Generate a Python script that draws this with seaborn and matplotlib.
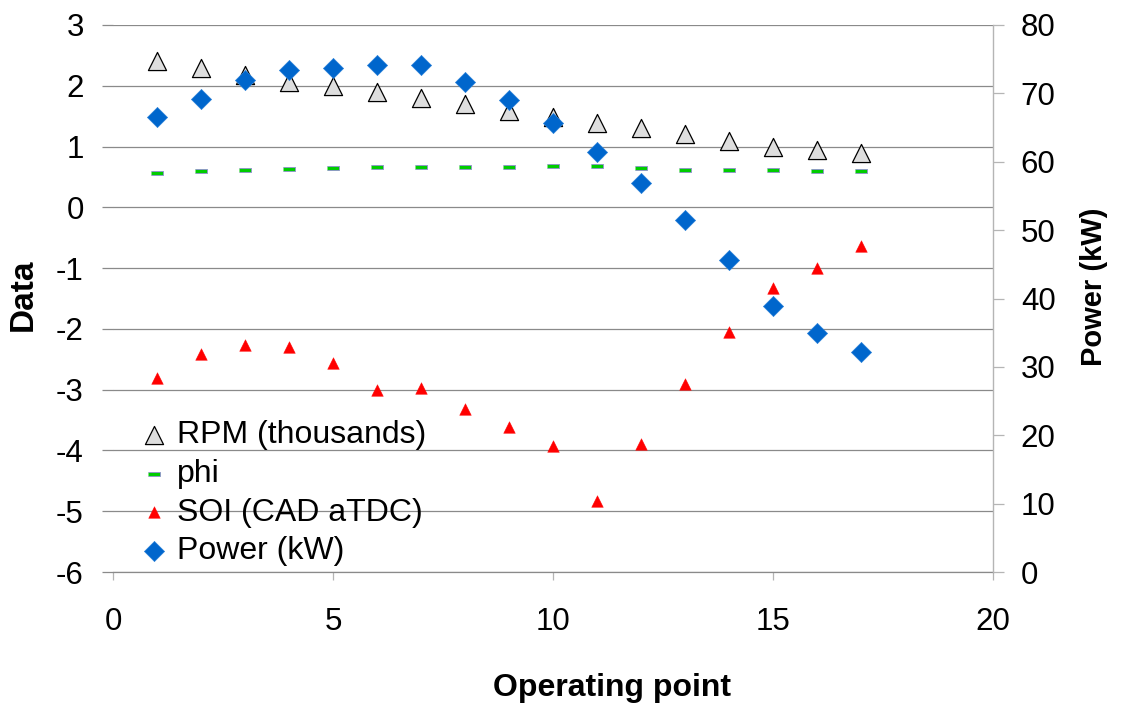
import numpy as np
import pandas as pd
import matplotlib
matplotlib.use("Agg")
import matplotlib.pyplot as plt
import seaborn as sns

# ---- data ----
op_points = [1, 2, 3, 4, 5, 6, 7, 8, 9, 10, 11, 12, 13, 14, 15, 16, 17]
rpm_thousands = [2.40, 2.30, 2.18, 2.06, 1.99, 1.90, 1.80, 1.70, 1.59, 1.49,
                 1.39, 1.30, 1.20, 1.09, 1.00, 0.95, 0.90]
phi = [0.56, 0.59, 0.62, 0.63, 0.645, 0.67, 0.67, 0.67, 0.67, 0.68,
       0.68, 0.64, 0.62, 0.62, 0.62, 0.60, 0.60]
soi = [-2.80, -2.42, -2.27, -2.30, -2.56, -3.01, -2.97, -3.32, -3.61, -3.93,
       -4.84, -3.89, -2.90, -2.05, -1.32, -1.00, -0.64]
power_kw = [66.5, 69.2, 71.9, 73.4, 73.7, 74.2, 74.1, 71.7, 69.0, 65.7,
            61.4, 56.9, 51.5, 45.6, 38.9, 35.0, 32.2]

left_ticks = [3, 2, 1, 0, -1, -2, -3, -4, -5, -6]
right_ticks = [0, 10, 20, 30, 40, 50, 60, 70, 80]
x_ticks = [0, 5, 10, 15, 20]

labels = ["RPM (thousands)", "phi", "SOI (CAD aTDC)", "Power (kW)"]

# ---- style ----
sns.set_style("white")
plt.rcParams['font.family'] = ['Liberation Sans', 'DejaVu Sans']
plt.rcParams['axes.unicode_minus'] = False
plt.rcParams['text.color'] = 'black'
plt.rcParams['axes.labelcolor'] = 'black'

W, H = 1127, 705
fig = plt.figure(figsize=(W / 100, H / 100), dpi=100)
ax = fig.add_axes([113 / W, 1 - 572 / H, 880 / W, 547 / H])
ax2 = ax.twinx()

grid_c = '#8a8a8a'
dash_marker = [(-1.5, -0.5), (1.5, -0.5), (1.5, 0.5), (-1.5, 0.5)]

sns.scatterplot(x=op_points, y=rpm_thousands, ax=ax, marker='^', s=170,
                color='#dedede', edgecolor='black', linewidth=0.9,
                label=labels[0], zorder=3, legend=False)
sns.scatterplot(x=op_points, y=phi, ax=ax, marker=dash_marker, s=80,
                color='#00cc00', edgecolor='#8f8fcf', linewidth=0.6,
                label=labels[1], zorder=3, legend=False)
sns.scatterplot(x=op_points, y=soi, ax=ax, marker='^', s=70,
                color='#ff0000', edgecolor='#ff0000', linewidth=0.3,
                label=labels[2], zorder=3, legend=False)
sns.scatterplot(x=op_points, y=power_kw, ax=ax2, marker='D', s=105,
                color='#0066cc', edgecolor='#2a80d8', linewidth=0.5,
                label=labels[3], zorder=3, legend=False)

# ---- axes ----
ax.set_xlim(0, 20)
ax.set_ylim(-6, 3)
ax2.set_ylim(0, 80)
ax.set_xticks(x_ticks)
ax.set_yticks(left_ticks)
ax2.set_yticks(right_ticks)

ax.yaxis.grid(True, color=grid_c, linewidth=0.9)
ax.xaxis.grid(False)
ax.set_axisbelow(True)

for s in ['left', 'top', 'right']:
    ax.spines[s].set_visible(False)
ax.spines['bottom'].set_color(grid_c)
ax.spines['bottom'].set_linewidth(0.9)
for s in ['left', 'top', 'bottom']:
    ax2.spines[s].set_visible(False)
ax2.spines['right'].set_color('#b5b5b5')
ax2.spines['right'].set_linewidth(1.0)

fs = 22.5
ax.tick_params(axis='y', left=True, length=8, width=0.9, color=grid_c,
               direction='out', pad=13, labelsize=fs, labelcolor='black')
ax.tick_params(axis='x', bottom=True, length=6, width=0.9, color='#b5b5b5',
               direction='out', pad=19, labelsize=fs, labelcolor='black')
ax2.tick_params(axis='y', right=True, length=8, width=0.9, color='#b5b5b5',
                direction='out', pad=12, labelsize=fs, labelcolor='black')

ax.set_xlabel("Operating point", fontsize=23, fontweight='bold')
ax.xaxis.set_label_coords(0.567, -0.184)
ax.set_ylabel("Data", fontsize=24, fontweight='bold')
ax.yaxis.set_label_coords(-0.084, 0.506)
ax2.set_ylabel("Power (kW)", fontsize=21, fontweight='bold')
ax2.yaxis.set_label_coords(1.099, 0.521)

# ---- legend ----
h1, l1 = ax.get_legend_handles_labels()
h2, l2 = ax2.get_legend_handles_labels()
leg = ax.legend(h1 + h2, l1 + l2, loc='upper left',
                bbox_to_anchor=(0.036, 0.277), frameon=False, fontsize=23,
                handlelength=0.6, handletextpad=0.4, borderpad=0,
                borderaxespad=0, labelspacing=0.27)
leg.set_zorder(5)

fig.savefig("out.png", dpi=100)
